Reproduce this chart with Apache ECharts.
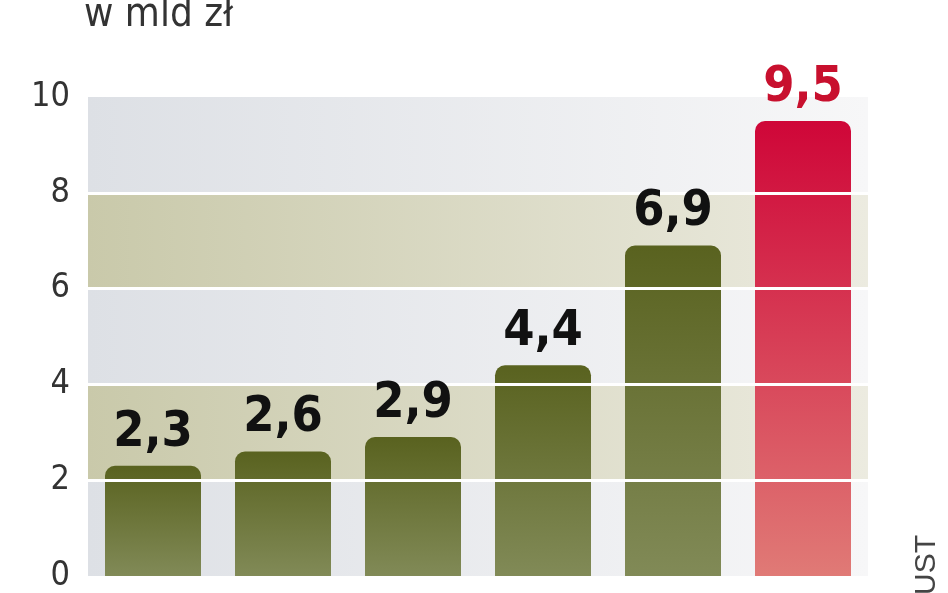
<!DOCTYPE html>
<html><head><meta charset="utf-8">
<script src="https://cdn.jsdelivr.net/npm/echarts@6/dist/echarts.min.js"></script>
<style>html,body{margin:0;padding:0;background:#fff}#c{width:948px;height:593px}</style>
</head><body><div id="c"></div>
<script>
var categories = ['1', '2', '3', '4', '5', '6'];
var values = [2.3, 2.6, 2.9, 4.4, 6.9, 9.5];
var valueLabels = ['2,3', '2,6', '2,9', '4,4', '6,9', '9,5'];
var gridLevels = [2, 4, 6, 8];

var chart = echarts.init(document.getElementById('c'));

function olive(){
    return new echarts.graphic.LinearGradient(0,0,0,1,[{offset:0,color:'#59621f'},{offset:1,color:'#818a57'}]);
}
function red(){
    return new echarts.graphic.LinearGradient(0,0,0,1,[{offset:0,color:'#cf0638'},{offset:1,color:'#e07a76'}]);
}
var bandGray = new echarts.graphic.LinearGradient(0,0,1,0,[{offset:0,color:'#dde0e5'},{offset:1,color:'#f7f7f8'}]);
var bandOlive = new echarts.graphic.LinearGradient(0,0,1,0,[{offset:0,color:'#c9c9aa'},{offset:1,color:'#ecebe0'}]);

var last = values.length - 1;
var barData = values.map(function(v, i){
    return {value: v, itemStyle: {color: i === last ? red() : olive()}};
});
// labels sit in a transparent copy drawn above the white lines
var labelData = values.map(function(v, i){
    return {value: v, label: {color: i === last ? '#c8102e' : '#111'}};
});

chart.setOption({
    animation: false,
    grid: {left: 88, right: 80, top: 97, height: 513},
    xAxis: {
        type: 'category', data: categories,
        axisLine: {show: false}, axisTick: {show: false}, axisLabel: {show: false}
    },
    yAxis: {
        type: 'value', min: 0, max: 10, interval: 2,
        axisLine: {show: false}, axisTick: {show: false},
        axisLabel: {fontSize: 34, color: '#333', fontFamily: 'Liberation Sans Narrow, DejaVu Sans Condensed', margin: 18},
        splitLine: {show: false},
        splitArea: {show: true, areaStyle: {color: [bandGray, bandOlive, bandGray, bandOlive, bandGray]}}
    },
    series: [{
        type: 'bar', data: barData, barWidth: 96, z: 2,
        itemStyle: {borderRadius: [10, 10, 0, 0]}
    }, {
        type: 'line', data: [], z: 5,
        markLine: {
            silent: true, symbol: 'none', label: {show: false},
            lineStyle: {color: '#fff', width: 3, type: 'solid'},
            data: gridLevels.map(function(g){ return {yAxis: g}; })
        }
    }, {
        type: 'bar', data: labelData, barWidth: 96, barGap: '-100%', z: 10,
        itemStyle: {color: 'transparent'},
        label: {
            show: true, position: 'top', distance: 8,
            fontSize: 50, fontWeight: 'bold',
            fontFamily: 'DejaVu Sans Condensed',
            formatter: function(p){ return valueLabels[p.dataIndex]; }
        }
    }],
    graphic: [{
        type: 'text', left: 84, top: -4,
        style: {text: 'w mld zł', fontSize: 40, fill: '#333', fontFamily: 'Liberation Sans Narrow, DejaVu Sans Condensed'}
    }, {
        type: 'text', x: 942, y: 535, rotation: Math.PI / 2,
        style: {text: 'UST', fontSize: 30, fill: '#444', fontFamily: 'Liberation Sans', align: 'right', verticalAlign: 'bottom'}
    }]
});
</script></body></html>
